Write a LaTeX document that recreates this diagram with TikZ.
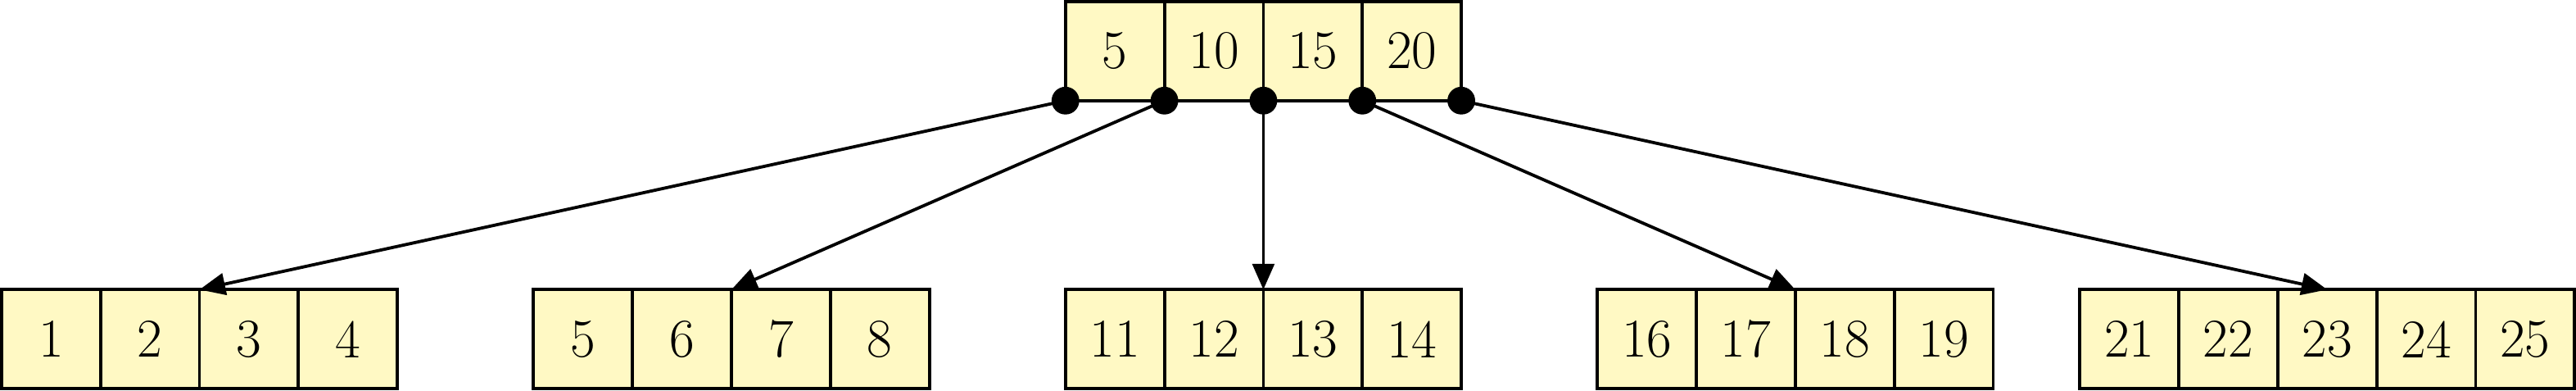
\documentclass[tikz,border=0pt]{standalone}
\usepackage{tikz}
\usetikzlibrary{arrows.meta, positioning}
\definecolor{keyfill}{RGB}{255,249,196}

\begin{document}
\begin{tikzpicture}[
        node distance=0pt,
        cell/.style={draw, line width=0.9pt, fill=keyfill, minimum size=1cm,
                     inner sep=0pt, outer sep=0pt,
                     font=\fontsize{15.7}{19}\selectfont},
        arrow/.style={-{Triangle[length=2.6mm, width=2.2mm]}, line width=0.9pt},
        dot/.style={fill=black}
    ]
        \useasboundingbox (0,0) rectangle (26.03,-3.94);
        % root
        \node[cell] (r1) at (11.266,-0.516) {5};
        \node[cell, right=of r1] (r2) {10};
        \node[cell, right=of r2] (r3) {15};
        \node[cell, right=of r3] (r4) {20};
        % leaves
        \node[cell] (a1) at (0.516,-3.424) {1};
        \node[cell, right=of a1] (a2) {2};
        \node[cell, right=of a2] (a3) {3};
        \node[cell, right=of a3] (a4) {4};
        \node[cell] (b1) at (5.891,-3.424) {5};
        \node[cell, right=of b1] (b2) {6};
        \node[cell, right=of b2] (b3) {7};
        \node[cell, right=of b3] (b4) {8};
        \node[cell] (c1) at (11.266,-3.424) {11};
        \node[cell, right=of c1] (c2) {12};
        \node[cell, right=of c2] (c3) {13};
        \node[cell, right=of c3] (c4) {14};
        \node[cell] (d1) at (16.641,-3.424) {16};
        \node[cell, right=of d1] (d2) {17};
        \node[cell, right=of d2] (d3) {18};
        \node[cell, right=of d3] (d4) {19};
        \node[cell] (e1) at (21.516,-3.424) {21};
        \node[cell, right=of e1] (e2) {22};
        \node[cell, right=of e2] (e3) {23};
        \node[cell, right=of e3] (e4) {24};
        \node[cell, right=of e4] (e5) {25};

        \draw[arrow] (r1.south west) -- (a2.north east);
        \draw[arrow] (r1.south east) -- (b2.north east);
        \draw[arrow] (r2.south east) -- (c2.north east);
        \draw[arrow] (r3.south east) -- (d2.north east);
        \draw[arrow] (r4.south east) -- (e3.north);

        \fill[dot] (r1.south west) circle (0.14);
        \fill[dot] (r1.south east) circle (0.14);
        \fill[dot] (r2.south east) circle (0.14);
        \fill[dot] (r3.south east) circle (0.14);
        \fill[dot] (r4.south east) circle (0.14);
    \end{tikzpicture}
\end{document}
